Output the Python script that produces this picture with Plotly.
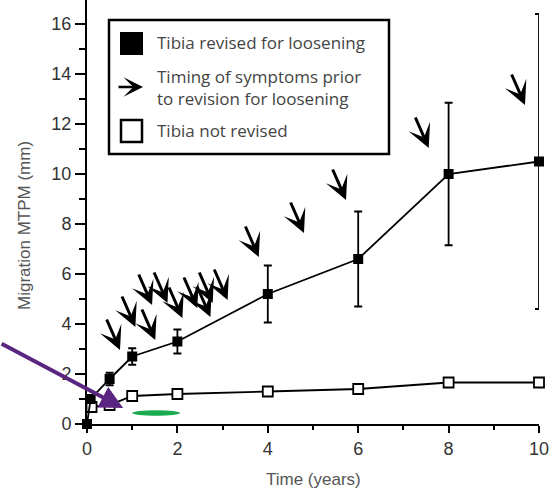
import plotly.graph_objects as go

# ---- data ----
revised_x = [0, 0.08, 0.5, 1, 2, 4, 6, 8, 10]
revised_y = [0, 1.0, 1.8, 2.7, 3.3, 5.2, 6.6, 10.0, 10.5]
revised_err = [0, 0, 0.25, 0.33, 0.48, 1.14, 1.9, 2.85, 5.9]

not_revised_x = [0.1, 0.5, 1, 2, 4, 6, 8, 10]
not_revised_y = [0.68, 0.76, 1.12, 1.2, 1.3, 1.4, 1.66, 1.66]

symptom_x = [0.73, 1.07, 1.51, 1.44, 1.78, 2.11, 2.44, 2.78, 2.73, 3.11, 3.80, 4.80, 5.73, 7.56, 9.69]
symptom_y = [2.96, 3.88, 3.36, 4.76, 4.84, 4.24, 4.64, 4.84, 4.28, 4.96, 6.68, 7.64, 8.96, 11.04, 12.76]

x_ticks = [0, 2, 4, 6, 8, 10]
y_ticks = [0, 2, 4, 6, 8, 10, 12, 14, 16]

legend_labels = ["Tibia revised for loosening",
                 "Timing of symptoms prior<br>to revision for loosening",
                 "Tibia not revised"]

W, H = 553, 489
ML, MR, MT, MB = 87, 14, 0, 65
PW, PH = W - ML - MR, H - MT - MB


def px(xp):
    return (xp - ML) / PW


def py(yp):
    return (H - MB - yp) / PH


fig = go.Figure()

fig.add_trace(go.Scatter(
    x=not_revised_x, y=not_revised_y, mode="lines+markers",
    line=dict(color="black", width=1.8),
    marker=dict(symbol="square", size=10, color="white",
                line=dict(color="black", width=1.8)),
    cliponaxis=False, showlegend=False, hoverinfo="skip"))

fig.add_trace(go.Scatter(
    x=revised_x, y=revised_y, mode="lines+markers",
    line=dict(color="black", width=1.8),
    marker=dict(symbol="square", size=10, color="black"),
    error_y=dict(type="data", array=revised_err, color="black",
                 thickness=1.8, width=4),
    cliponaxis=False, showlegend=False, hoverinfo="skip"))

annotations = []
for sx, sy in zip(symptom_x, symptom_y):
    annotations.append(dict(
        x=sx, y=sy, xref="x", yref="y", text="", showarrow=True,
        ax=-14, ay=-32, arrowhead=3, arrowwidth=3, arrowsize=1.3,
        arrowcolor="black"))

# purple pointer and green mark
annotations.append(dict(
    x=0.80, y=0.64, xref="x", yref="y", text="", showarrow=True,
    ax=-123, ay=-65, arrowhead=2, arrowwidth=4, arrowsize=1.15,
    arrowcolor="#5a2580"))

font_leg = dict(family="Open Sans", size=17, color="#444444")
leg_ys = [43, 87.5, 130]
for lab, ly in zip(legend_labels, leg_ys):
    annotations.append(dict(
        x=px(155), y=py(ly), xref="paper", yref="paper", text=lab,
        showarrow=False, xanchor="left", yanchor="middle", align="left",
        font=font_leg))

# legend arrow icon
annotations.append(dict(
    x=px(143), y=py(87), xref="paper", yref="paper", text="", showarrow=True,
    ax=-26, ay=0, arrowhead=3, arrowwidth=2.5, arrowsize=1.3,
    arrowcolor="black"))

axis_title_font = dict(family="Liberation Sans", size=17, color="#555555")
# axis titles
annotations.append(dict(
    x=px(25), y=py(226), xref="paper", yref="paper",
    text="Migration MTPM (mm)", textangle=-90, showarrow=False,
    xanchor="center", yanchor="middle", font=axis_title_font))
annotations.append(dict(
    x=px(313), y=py(479), xref="paper", yref="paper",
    text="Time (years)", showarrow=False, xanchor="center", yanchor="middle",
    font=axis_title_font))

shapes = [
    dict(type="circle", xref="x", yref="y", x0=1.0, x1=2.06, y0=0.33, y1=0.55,
         fillcolor="#1aaa4f", line=dict(width=0)),
    dict(type="rect", xref="paper", yref="paper", x0=px(109), x1=px(389),
         y0=py(154), y1=py(20), fillcolor="white",
         line=dict(color="black", width=2.5)),
    dict(type="rect", xref="paper", yref="paper", x0=px(120), x1=px(143),
         y0=py(55), y1=py(32), fillcolor="black", line=dict(width=0)),
    dict(type="rect", xref="paper", yref="paper", x0=px(121), x1=px(142),
         y0=py(142), y1=py(120), fillcolor="white",
         line=dict(color="black", width=2.5)),
]

tickfont = dict(family="Liberation Sans", size=18, color="#333333")

fig.update_layout(
    width=W, height=H,
    margin=dict(l=ML, r=MR, t=MT, b=MB, autoexpand=False),
    paper_bgcolor="white", plot_bgcolor="white",
    annotations=annotations, shapes=shapes, hovermode=False,
    xaxis=dict(range=[0, 10], tickvals=x_ticks, ticks="outside", ticklen=7,
               tickwidth=1.5, tickcolor="black", automargin=False,
               minor=dict(dtick=1, tick0=0, ticks="outside", ticklen=4,
                          tickcolor="black", tickwidth=1.5),
               showline=True, linecolor="black", linewidth=2,
               showgrid=False, zeroline=False, tickfont=tickfont),
    yaxis=dict(range=[0, PH / 25.0], tickvals=y_ticks, ticks="outside",
               ticklen=10, tickwidth=1.5, tickcolor="black", automargin=False,
               minor=dict(dtick=1, tick0=0, ticks="outside", ticklen=6,
                          tickcolor="black", tickwidth=1.5),
               showline=True, linecolor="black", linewidth=2,
               showgrid=False, zeroline=False, tickfont=tickfont),
)

fig.write_html("out.html",
               config={"displayModeBar": False},
               post_script="document.body.style.margin='0';"
                           "document.body.style.overflow='hidden';")
